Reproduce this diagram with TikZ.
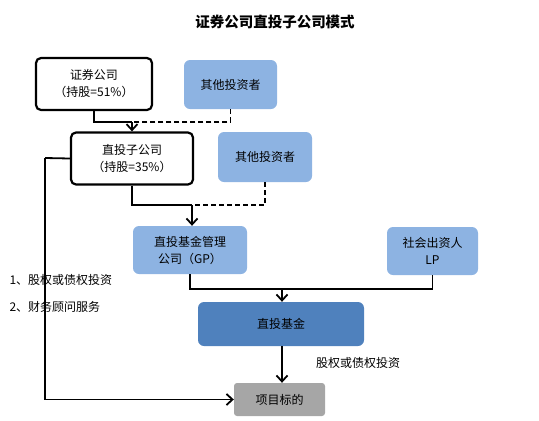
\documentclass[tikz,border=0pt]{standalone}
\usepackage{fontspec}
\setmainfont{Noto Sans CJK SC}
\usepackage{tikz}
\usetikzlibrary{arrows.meta, positioning}
\usepackage{xcolor}
\definecolor{lightblue}{HTML}{8DB3E2}
\definecolor{fundblue}{HTML}{4F81BD}
\definecolor{targetgray}{HTML}{A6A6A6}

\begin{document}
\begin{tikzpicture}[
x=1pt, y=-1pt,
font=\fontsize{12}{17}\selectfont,
box/.style={draw, line width=2.2pt, rectangle, rounded corners=5pt,
fill=white, align=center, inner sep=0pt},
bluebox/.style={rectangle, rounded corners=6pt, fill=lightblue,
align=center, inner sep=0pt},
line/.style={line width=1.8pt},
dashline/.style={line width=1.8pt, dash pattern=on 5pt off 3pt},
arrow/.style={-{Straight Barb[length=6pt, width=11pt]}, line width=1.8pt}
]
\useasboundingbox (0,0) rectangle (539,421);

\node[font=\fontsize{14.5}{16}\selectfont\bfseries] (title) at (275,22) {证券公司直投子公司模式};

\node[box, minimum width=116pt, minimum height=52pt] (parent) at (94,84) {证券公司\\（持股=51\%）};
\node[bluebox, minimum width=93pt, minimum height=49pt] (other1) at (230.5,84.5) {其他投资者};
\node[box, minimum width=122pt, minimum height=52pt] (sub) at (132,158.5) {直投子公司\\（持股=35\%）};
\node[bluebox, minimum width=94pt, minimum height=50pt] (other2) at (265,157) {其他投资者};
\node[bluebox, minimum width=114pt, minimum height=48pt] (gp) at (190,250) {直投基金管理\\公司（GP）};
\node[bluebox, minimum width=91pt, minimum height=48pt] (lp) at (432.5,251) {社会出资人\\LP};
\node[bluebox, fill=fundblue, minimum width=166pt, minimum height=44pt] (fund) at (281,324) {直投基金};
\node[bluebox, fill=targetgray, rounded corners=3pt, minimum width=91pt, minimum height=33pt] (target) at (279.5,399.5) {项目标的};

\node[anchor=west] (svc1) at (6,280) {1、股权或债权投资};
\node[anchor=west] (svc2) at (6,307) {2、财务顾问服务};

\coordinate (j1) at (132,122);
\coordinate (j2) at (192,205);
\coordinate (j3) at (282,289);
\coordinate (k) at (45,158);

\draw[line] (parent.south) |- (j1);
\draw[dashline] (other1.south) |- (j1);
\draw[arrow] (j1) -- (sub.north);

\draw[line] (sub.south) |- (j2);
\draw[dashline] (other2.south) |- (j2);
\draw[arrow] (j2) -- (j2 |- gp.north);

\draw[line] (gp.south) -- (gp.south |- j3) -- (lp.south |- j3) -- (lp.south);
\draw[arrow] (j3) -- (j3 |- fund.north);

\draw[arrow] (j3 |- fund.south) -- (j3 |- target.north)
node[pos=0.45, anchor=west, xshift=30pt] (inv) {股权或债权投资};

\draw[line] (sub.west) -- (k);
\draw[arrow] (k) |- (target.west);

\end{tikzpicture}
\end{document}
